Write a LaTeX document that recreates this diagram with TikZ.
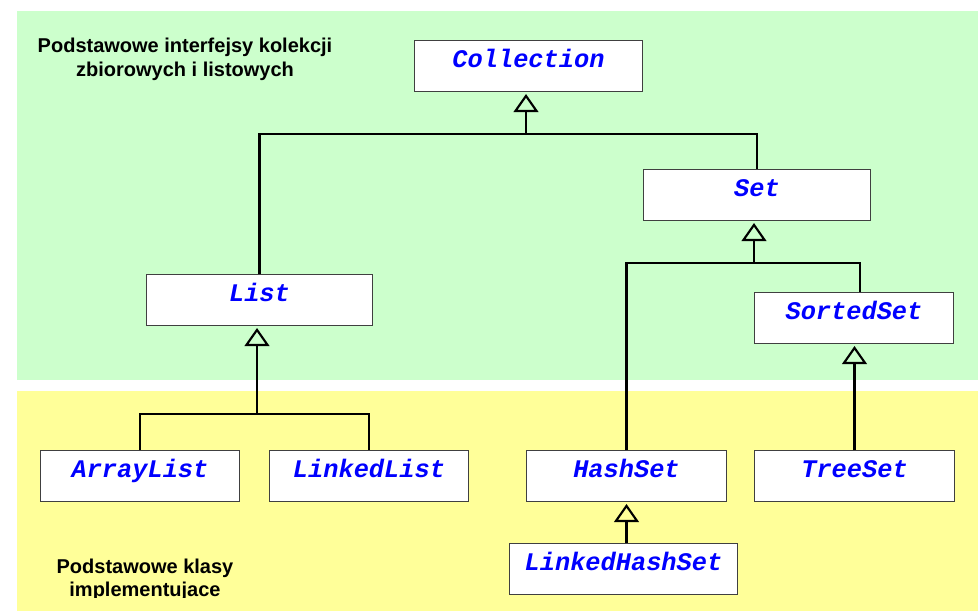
\documentclass[tikz,border=0pt]{standalone}
\usepackage{fontspec}
\newfontfamily\codefont{Liberation Mono}
\newfontfamily\labfont{Liberation Sans}
\usetikzlibrary{arrows.meta}
\definecolor{bggreen}{HTML}{CCFFCC}
\definecolor{bgyellow}{HTML}{FFFF99}
\definecolor{codeblue}{HTML}{0000FF}
\begin{document}
\begin{tikzpicture}[x=0.75pt,y=-0.75pt,
  cls/.style={draw=black!75, line width=0.75pt, fill=white, anchor=north west,
    inner xsep=0pt, inner ysep=0pt, text height=20pt, text depth=18.25pt,
    font=\codefont\bfseries\itshape\fontsize{19}{22}\selectfont, text=codeblue,
    minimum width=#1*0.75pt},
  link/.style={line width=1.8pt},
  gen/.style={link, -{Triangle[open, length=13.5pt, width=18.5pt, line width=1.6pt]}, shorten >=1.5pt},
  lab/.style={font=\labfont\bfseries\fontsize{15}{18.5}\selectfont, align=center, anchor=north, inner sep=0pt}]
\useasboundingbox (0,0) rectangle (978,611);
\fill[bggreen] (17,11) rectangle (978,380);
\fill[bgyellow] (17,391) rectangle (978,611);

\node[cls=228] (Collection) at (414,40) {Collection};
\node[cls=227] (Set) at (643,169) {Set};
\node[cls=226] (List) at (146,274) {List};
\node[cls=199] (SortedSet) at (754,292) {SortedSet};
\node[cls=199] (ArrayList) at (40,450) {ArrayList};
\node[cls=199] (LinkedList) at (269,450) {LinkedList};
\node[cls=200] (HashSet) at (526,450) {HashSet};
\node[cls=200] (TreeSet) at (754,450) {TreeSet};
\node[cls=228] (LinkedHashSet) at (509,543) {LinkedHashSet};

\coordinate (jc) at (526,134);
\coordinate (js) at (754,263);
\coordinate (jl) at (257,414);
\coordinate (ss) at (860,0);

\draw[link] (List.north) |- (jc) -| (Set.north);
\draw[gen] (jc) -- (jc |- Collection.south);
\draw[link] (HashSet.north) |- (js) -| (ss |- SortedSet.north);
\draw[gen] (js) -- (js |- Set.south);
\draw[link] (ArrayList.north) |- (jl) -| (LinkedList.north);
\draw[gen] (jl) -- (jl |- List.south);
\draw[gen] (TreeSet.north) -- (TreeSet.north |- SortedSet.south);
\draw[gen] (HashSet.south |- LinkedHashSet.north) -- (HashSet.south);

\node[lab] (title) at (185,37.5) {Podstawowe interfejsy kolekcji\\zbiorowych i listowych};
\begin{scope}
\clip (17,391) rectangle (978,597);
\node[lab, font=\labfont\bfseries\fontsize{15}{17.5}\selectfont] (impl) at (145,558.5) {Podstawowe klasy\\implementujace};
\end{scope}
\end{tikzpicture}
\end{document}
